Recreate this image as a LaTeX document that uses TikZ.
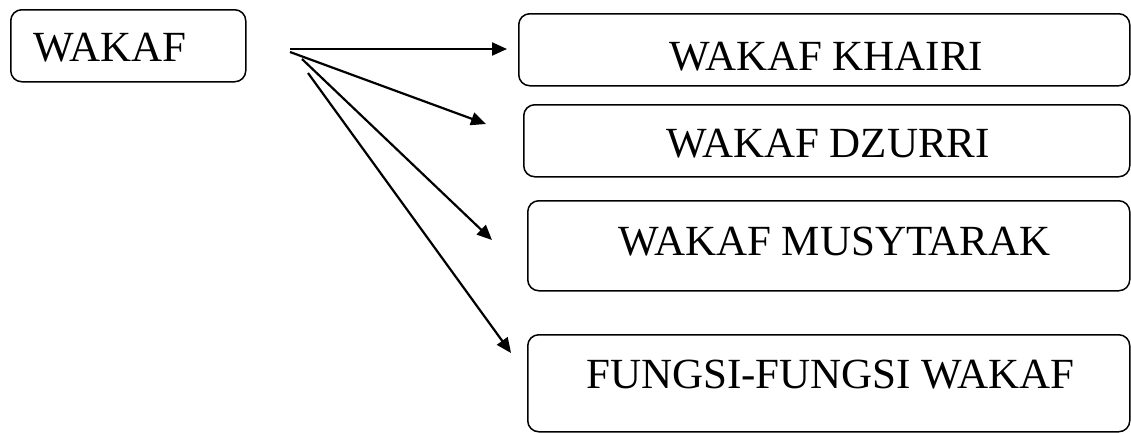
\documentclass[tikz,border=0pt]{standalone}
\usepackage{fontspec}
\setmainfont{Liberation Serif}
\usetikzlibrary{arrows.meta}
\begin{document}
\begin{tikzpicture}[x=1pt,y=-1pt,
  box/.style={draw=black, line width=1.5pt, rounded corners=11pt, rectangle, inner sep=0pt, anchor=north west},
  lbl/.style={inner sep=0pt, anchor=base west, font=\fontsize{43}{48}\selectfont},
  conn/.style={line width=2.2pt, -{Triangle[length=15pt,width=13pt]}}]
\useasboundingbox (0,0) rectangle (1131,432);
% boxes
\node[box, minimum width=235pt, minimum height=72pt] (b0) at (10,9) {};
\node[box, minimum width=611pt, minimum height=72pt] (b1) at (518,13) {};
\node[box, minimum width=606pt, minimum height=72pt] (b2) at (523,104) {};
\node[box, minimum width=602pt, minimum height=90pt] (b3) at (527,200) {};
\node[box, minimum width=602pt, minimum height=97pt] (b4) at (527,334) {};
% labels
\node[lbl] (l0) at (33,61) {WAKAF};
\node[lbl] (l1) at (669,70) {WAKAF KHAIRI};
\node[lbl] (l2) at (666,157) {WAKAF DZURRI};
\node[lbl] (l3) at (618,255) {WAKAF MUSYTARAK};
\node[lbl] (l4) at (586,388) {FUNGSI-FUNGSI WAKAF};
% connector ends
\coordinate (s1) at (290,49);
\coordinate (s2) at (290,52);
\coordinate (s3) at (302,59);
\coordinate (s4) at (308,73);
\coordinate (e1) at (507,49);
\coordinate (e2) at (486,124);
\coordinate (e3) at (492,240);
\coordinate (e4) at (511,353);
\draw[conn] (s1) -- (e1);
\draw[conn] (s2) -- (e2);
\draw[conn] (s3) -- (e3);
\draw[conn] (s4) -- (e4);
\end{tikzpicture}
\end{document}
